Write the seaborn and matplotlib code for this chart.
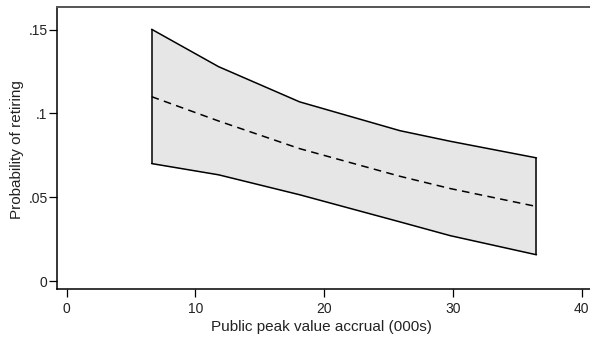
import numpy as np
import pandas as pd
import seaborn as sns
import matplotlib
matplotlib.use("Agg")
import matplotlib.pyplot as plt

# Predicted probability of retiring with 95% confidence band
accrual = [6.6, 11.8, 18.1, 25.9, 29.8, 36.5]
prob = [0.110, 0.0955, 0.0790, 0.0625, 0.0552, 0.0445]
upper = [0.1502, 0.1279, 0.1069, 0.0897, 0.0834, 0.0735]
lower = [0.0701, 0.0634, 0.0515, 0.0353, 0.0271, 0.0157]

x_ticks = [0, 10, 20, 30, 40]
y_ticks = [0, 0.05, 0.10, 0.15]
y_tick_labels = ["0", ".05", ".1", ".15"]

sns.set_style("white")
plt.rcParams["font.family"] = ["Liberation Sans", "DejaVu Sans"]

df = pd.DataFrame({"accrual": accrual, "prob": prob, "upper": upper, "lower": lower})

fig = plt.figure(figsize=(5.9, 3.37), dpi=100)
ax = fig.add_axes([0.0971, 0.1415, 0.923, 0.8368])

ax.fill_between(df["accrual"], df["lower"], df["upper"], color="#e6e6e6", linewidth=0, zorder=1)
sns.lineplot(data=df, x="accrual", y="upper", ax=ax, color="black", linewidth=1.1, zorder=3)
sns.lineplot(data=df, x="accrual", y="lower", ax=ax, color="black", linewidth=1.1, zorder=3)
sns.lineplot(data=df, x="accrual", y="prob", ax=ax, color="black", linewidth=1.1,
             linestyle=(0, (5, 3.5)), zorder=3)
ax.vlines([df["accrual"].iloc[0], df["accrual"].iloc[-1]],
          [df["lower"].iloc[0], df["lower"].iloc[-1]],
          [df["upper"].iloc[0], df["upper"].iloc[-1]],
          color="black", linewidth=1.1, zorder=3)

ax.set_xlim(-0.73, 41.58)
ax.set_ylim(-0.0049, 0.1633)
ax.set_xticks(x_ticks)
ax.set_xticklabels([str(t) for t in x_ticks])
ax.set_yticks(y_ticks)
ax.set_yticklabels(y_tick_labels)

ax.tick_params(axis="both", direction="out", length=5.5, width=0.9, color="black",
               labelsize=10, labelcolor="#222222")
ax.tick_params(axis="x", bottom=True, pad=3.5)
ax.tick_params(axis="y", left=True, pad=1.5)

for side in ["left", "bottom"]:
    ax.spines[side].set_color("black")
    ax.spines[side].set_linewidth(1.1)
ax.spines["top"].set_color("#555555")
ax.spines["top"].set_linewidth(1.4)
ax.spines["right"].set_visible(False)

ax.set_xlabel("")
ax.set_ylabel("")
fig.text(321.5 / 590, 6.5 / 337, "Public peak value accrual (000s)", fontsize=11,
         color="#222222", ha="center", va="baseline")
fig.text(17 / 590, 1 - 150 / 337, "Probability of retiring", fontsize=11,
         color="#222222", ha="center", va="center", rotation=90)

fig.savefig("out.png", dpi=100)
